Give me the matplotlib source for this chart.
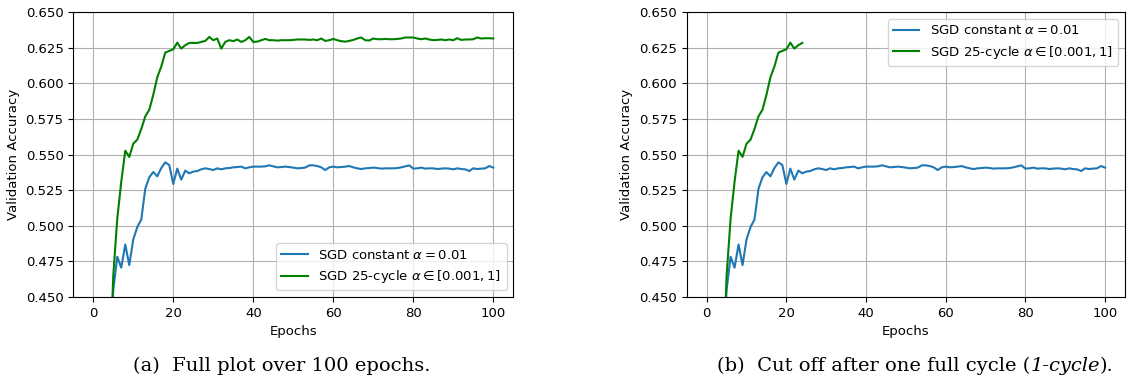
import matplotlib
matplotlib.use("Agg")
import matplotlib.pyplot as plt
import numpy as np

# ---- data ----
epochs = list(range(0, 101))

sgd_constant = [
    0.25, 0.30, 0.34, 0.38, 0.40, 0.455, 0.4783, 0.4706, 0.4869, 0.4724,
    0.4904, 0.4991, 0.5044, 0.5260, 0.5341, 0.5378, 0.5348, 0.5406, 0.5446, 0.5427,
    0.5294, 0.5402, 0.5325, 0.5388, 0.5369, 0.5381, 0.5385, 0.5397, 0.5404, 0.5399,
    0.5392, 0.5404, 0.5397, 0.5404, 0.5406, 0.5411, 0.5413, 0.5416, 0.5404, 0.5411,
    0.5416, 0.5416, 0.5416, 0.5418, 0.5425, 0.5418, 0.5411, 0.5413, 0.5416, 0.5413,
    0.5409, 0.5404, 0.5406, 0.5409, 0.5425, 0.5425, 0.5420, 0.5411, 0.5392, 0.5411,
    0.5416, 0.5411, 0.5413, 0.5416, 0.5420, 0.5411, 0.5404, 0.5399, 0.5404, 0.5406,
    0.5409, 0.5406, 0.5402, 0.5404, 0.5404, 0.5404, 0.5406, 0.5411, 0.5418, 0.5425,
    0.5402, 0.5404, 0.5409, 0.5402, 0.5404, 0.5404, 0.5399, 0.5402, 0.5404, 0.5402,
    0.5397, 0.5404, 0.5399, 0.5397, 0.5385, 0.5404, 0.5399, 0.5402, 0.5404, 0.5420,
    0.5409,
]

sgd_cycle = [
    0.20, 0.27, 0.32, 0.36, 0.39, 0.465, 0.505, 0.531, 0.5528, 0.5484,
    0.5577, 0.5605, 0.5680, 0.5769, 0.5815, 0.5920, 0.6044, 0.6119, 0.6217, 0.6229,
    0.6240, 0.6287, 0.6245, 0.6269, 0.6285, 0.6285, 0.6285, 0.6292, 0.6299, 0.6327,
    0.6304, 0.6316, 0.6245, 0.6292, 0.6304, 0.6297, 0.6309, 0.6292, 0.6304, 0.6327,
    0.6292, 0.6294, 0.6304, 0.6313, 0.6304, 0.6304, 0.6301, 0.6304, 0.6304, 0.6304,
    0.6306, 0.6309, 0.6309, 0.6309, 0.6306, 0.6309, 0.6304, 0.6316, 0.6299, 0.6304,
    0.6313, 0.6304, 0.6297, 0.6294, 0.6299, 0.6306, 0.6316, 0.6323, 0.6304, 0.6302,
    0.6316, 0.6311, 0.6311, 0.6313, 0.6311, 0.6311, 0.6313, 0.6316, 0.6323, 0.6323,
    0.6323, 0.6316, 0.6311, 0.6316, 0.6309, 0.6304, 0.6306, 0.6309, 0.6304, 0.6309,
    0.6304, 0.6318, 0.6306, 0.6309, 0.6309, 0.6311, 0.6323, 0.6316, 0.6318, 0.6318,
    0.6316,
]

cycle_cut = 25  # one full cycle shown in panel (b)

label_const = r"SGD constant $\alpha = 0.01$"
label_cycle = r"SGD 25-cycle $\alpha \in [0.001, 1]$"

plt.rcParams['font.size'] = 9.5

fig = plt.figure(figsize=(11.29, 3.92), dpi=100)
ax1 = fig.add_axes([0.0649, 0.2423, 0.3897, 0.7263])
ax2 = fig.add_axes([0.6083, 0.2423, 0.3881, 0.7263])

# ---- (a) full plot ----
ax1.plot(epochs, sgd_constant, color='tab:blue', label=label_const)
ax1.plot(epochs, sgd_cycle, color='green', label=label_cycle)
ax1.legend(loc='lower right')

# ---- (b) cut after one cycle ----
ax2.plot(epochs, sgd_constant, color='tab:blue', label=label_const)
ax2.plot(epochs[:cycle_cut], sgd_cycle[:cycle_cut], color='green', label=label_cycle)
ax2.legend(loc='upper right')

for ax in (ax1, ax2):
    ax.set_xlim(-5, 105)
    ax.set_ylim(0.45, 0.65)
    ax.set_yticks(np.arange(0.45, 0.6501, 0.025))
    ax.grid(True)
    ax.set_xlabel("Epochs")
    ax.set_ylabel("Validation Accuracy")

# ---- captions ----
cap_font = dict(family='DejaVu Serif', fontsize=14)
fig.text(133 / 1129, 1 - 366 / 392, "(a)  Full plot over 100 epochs.",
         ha='left', va='center', **cap_font)
t1 = fig.text(717 / 1129, 1 - 366 / 392, "(b)  Cut off after one full cycle (",
              ha='left', va='center', **cap_font)
t2 = fig.add_artist(plt.Annotation("1-cycle", xy=(1, 0), xycoords=t1,
                                   va='bottom', style='italic', **cap_font))
fig.add_artist(plt.Annotation(").", xy=(1, 0), xycoords=t2, va='bottom', **cap_font))

fig.savefig("out.png", dpi=100)
